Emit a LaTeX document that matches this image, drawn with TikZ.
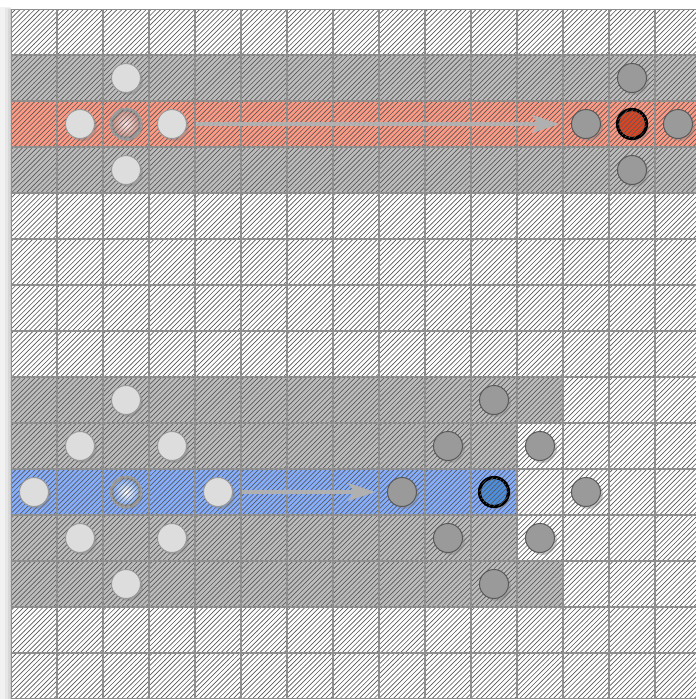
\documentclass[tikz,border=0pt]{standalone}
\usepackage{xcolor}
\usepackage{tikz}
\usetikzlibrary{arrows.meta, patterns, shadows}
\definecolor{Band}   {HTML}{BDBDBD}
\definecolor{Salmon} {HTML}{FF9A84}
\definecolor{Sky}    {HTML}{86AFFF}
\definecolor{Pale}   {HTML}{DDDDDD}
\definecolor{Stone}  {HTML}{9A9A9A}
\definecolor{Ember}  {HTML}{DD4422}
\definecolor{Ocean}  {HTML}{4C8FE0}
\definecolor{Rule}   {HTML}{8E8E8E}
\definecolor{Silver} {HTML}{B0B0B0}

\tikzset{
  lines/.style={pattern=north east lines, pattern color=black!65},
  bead/.style={circle, minimum size=0.63cm, inner sep=0pt, line width=0.6pt,
               drop shadow={opacity=0.4, shadow xshift=1.5pt, shadow yshift=-1.5pt}},
  free/.style={bead, draw=Stone, fill=Pale},
  held/.style={bead, draw=black!65, fill=Stone},
  hatch/.style={postaction={lines}},
  target/.style={bead, draw=black, line width=2pt, hatch},
  origin/.style={bead, draw=Stone, line width=2.3pt, hatch},
  flow/.style={draw=Silver, line width=2.2pt,
               -{Stealth[length=17pt, width=11pt, inset=4pt]},
               shorten <=0.2cm, shorten >=0.25cm}
}

\begin{document}
\begin{tikzpicture}
  \useasboundingbox (-0.239,0.196) rectangle (14.891,-15);
  % soft edge on the left
  \fill[black, opacity=0.05] (-0.24,0.05) rectangle (0,-15);
  \fill[black, opacity=0.05] (-0.14,0.03) rectangle (0,-15);
  \fill[black, opacity=0.06] (-0.07,0.01) rectangle (0,-15);
  \begin{scope}
    \clip (0,0) rectangle (14.891,-15);
    \fill[white] (0,0) rectangle (15,-15);
    % bands
    \fill[Band]   (0,-1)  rectangle (15,-4);
    \fill[Salmon] (0,-2)  rectangle (15,-3);
    \fill[Band]   (0,-8)  rectangle (12,-9);
    \fill[Band]   (0,-9)  rectangle (11,-12);
    \fill[Band]   (0,-12) rectangle (12,-13);
    \fill[Sky]    (0,-10) rectangle (11,-11);
    % hatching and cells
    \fill[lines] (0,0) rectangle (15,-15);
    \draw[Rule, line width=0.7pt] (0,0) grid (15,-15);
  \end{scope}

  % upper row
  \node[free] (redN) at (2.5,-1.5) {};
  \node[free] (redW) at (1.5,-2.5) {};
  \node[free] (redE) at (3.5,-2.5) {};
  \node[free] (redS) at (2.5,-3.5) {};
  \node[origin, inner color=red!10!white, outer color=Salmon!60!gray] (redC) at (2.5,-2.5) {};
  \node[held] (redtN) at (13.5,-1.5) {};
  \node[held] (redtW) at (12.5,-2.5) {};
  \node[held] (redtE) at (14.5,-2.5) {};
  \node[held] (redtS) at (13.5,-3.5) {};
  \node[target, fill=Ember] (redT) at (13.5,-2.5) {};
  \draw[flow] (redE) -- (redtW);

  % lower row
  \node[free] (blueN)  at (2.5,-8.5) {};
  \node[free] (blueNW) at (1.5,-9.5) {};
  \node[free] (blueNE) at (3.5,-9.5) {};
  \node[free] (blueW)  at (0.5,-10.5) {};
  \node[free] (blueE)  at (4.5,-10.5) {};
  \node[free] (blueSW) at (1.5,-11.5) {};
  \node[free] (blueSE) at (3.5,-11.5) {};
  \node[free] (blueS)  at (2.5,-12.5) {};
  \node[origin, inner color=white, outer color=Sky!75!Ocean] (blueC) at (2.5,-10.5) {};
  \node[held] (bluetN)  at (10.5,-8.5) {};
  \node[held] (bluetNW) at (9.5,-9.5) {};
  \node[held] (bluetNE) at (11.5,-9.5) {};
  \node[held] (bluetW)  at (8.5,-10.5) {};
  \node[held] (bluetE)  at (12.5,-10.5) {};
  \node[held] (bluetSW) at (9.5,-11.5) {};
  \node[held] (bluetSE) at (11.5,-11.5) {};
  \node[held] (bluetS)  at (10.5,-12.5) {};
  \node[target, fill=Ocean] (blueT) at (10.5,-10.5) {};
  \draw[flow] (blueE) -- (bluetW);
\end{tikzpicture}
\end{document}
